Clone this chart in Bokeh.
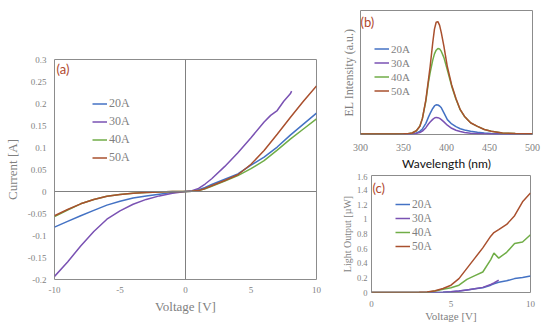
from bokeh.plotting import figure
from bokeh.models import Range1d, FixedTicker, Legend, LegendItem, Label, Span
from bokeh.layouts import row, column
from bokeh.embed import file_html
from bokeh.resources import INLINE

# ---------------- data ----------------
series = ["20A", "30A", "40A", "50A"]

# (a) I-V curves
volt_a = [-10, -9, -8, -7, -6, -5, -4, -3, -2, -1, 0, 0.5, 1, 1.5, 2, 3, 4, 5, 6, 7, 8, 9, 10]
cur_20 = [-0.081, -0.068, -0.055, -0.043, -0.031, -0.022, -0.015, -0.010, -0.006, -0.002, 0,
          0.0005, 0.004, 0.009, 0.016, 0.028, 0.040, 0.060, 0.078, 0.101, 0.128, 0.153, 0.178]
cur_40 = [-0.057, -0.042, -0.028, -0.018, -0.011, -0.007, -0.004, -0.002, -0.001, 0, 0,
          0.0004, 0.002, 0.006, 0.012, 0.024, 0.036, 0.052, 0.070, 0.094, 0.119, 0.142, 0.165]
cur_50 = [-0.055, -0.041, -0.028, -0.018, -0.011, -0.007, -0.004, -0.002, -0.001, 0, 0,
          0.0004, 0.002, 0.007, 0.013, 0.025, 0.038, 0.062, 0.093, 0.130, 0.168, 0.205, 0.240]
volt_a30 = [-10, -9, -8, -7, -6, -5, -4, -3, -2, -1, 0, 0.5, 1, 1.5, 2, 3, 4, 5, 6, 6.5, 7, 7.5, 8, 8.1]
cur_30 = [-0.193, -0.160, -0.124, -0.091, -0.063, -0.044, -0.029, -0.018, -0.010, -0.004, 0,
          0.002, 0.007, 0.017, 0.029, 0.057, 0.088, 0.122, 0.158, 0.173, 0.184, 0.205, 0.222, 0.228]
ya_ticks = [-0.2, -0.15, -0.1, -0.05, 0, 0.05, 0.1, 0.15, 0.2, 0.25, 0.3]
ya_labels = ["-0.2", "-0.15", "-0.1", "-0.05", "0", "0.05", "0.1", "0.15", "0.2", "0.25", "0.3"]
xa_ticks = [-10, -5, 0, 5, 10]
xa_labels = ["-10", "-5", "0", "5", "10"]

# (b) EL spectra
wl = [300, 320, 340, 350, 355, 360, 365, 369, 372, 376, 379, 381, 384, 386, 388, 390, 392, 394,
      397, 401, 406, 411, 416, 421, 428, 436, 444, 452, 465, 480, 500]
el_20 = [0.004, 0.004, 0.004, 0.004, 0.005, 0.006, 0.012, 0.025, 0.045, 0.09, 0.14, 0.17, 0.21, 0.23,
         0.24, 0.238, 0.23, 0.215, 0.175, 0.12, 0.085, 0.063, 0.046, 0.036, 0.026, 0.018, 0.012,
         0.008, 0.005, 0.004, 0.004]
el_30 = [0.004, 0.004, 0.004, 0.004, 0.005, 0.006, 0.009, 0.016, 0.027, 0.055, 0.085, 0.10, 0.122, 0.133,
         0.138, 0.136, 0.13, 0.12, 0.102, 0.075, 0.05, 0.034, 0.024, 0.017, 0.011, 0.008, 0.006,
         0.005, 0.004, 0.004, 0.004]
el_40 = [0.005, 0.005, 0.005, 0.006, 0.007, 0.012, 0.030, 0.066, 0.13, 0.27, 0.42, 0.50, 0.60, 0.65,
         0.68, 0.694, 0.69, 0.67, 0.62, 0.52, 0.39, 0.285, 0.198, 0.145, 0.094, 0.065, 0.040,
         0.026, 0.013, 0.008, 0.006]
el_50 = [0.005, 0.005, 0.005, 0.006, 0.007, 0.012, 0.030, 0.066, 0.13, 0.28, 0.44, 0.55, 0.74, 0.85,
         0.905, 0.91, 0.88, 0.82, 0.71, 0.546, 0.40, 0.29, 0.20, 0.146, 0.095, 0.066, 0.040,
         0.026, 0.013, 0.008, 0.006]
xb_ticks = [300, 350, 400, 450, 500]

# (c) light output
volt_c = [0, 1, 2, 3, 3.5, 4, 4.5, 5, 5.5, 6, 6.5, 7, 7.5, 7.7, 8, 8.5, 9, 9.5, 10]
lo_20 = [0, 0, 0, 0, 0, 0, 0.003, 0.01, 0.02, 0.035, 0.05, 0.065, 0.10, 0.12, 0.14, 0.16, 0.19, 0.205, 0.225]
lo_40 = [0, 0, 0, 0, 0.002, 0.02, 0.045, 0.065, 0.10, 0.18, 0.23, 0.28, 0.45, 0.54, 0.47, 0.55, 0.67, 0.69, 0.79]
lo_50 = [0, 0, 0, 0.002, 0.008, 0.025, 0.055, 0.10, 0.19, 0.33, 0.47, 0.61, 0.77, 0.82, 0.86, 0.93, 1.05, 1.24, 1.36]
volt_c30 = [0, 1, 2, 3, 3.5, 4, 4.5, 5, 5.5, 6, 6.5, 7, 7.5, 7.7, 8]
lo_30 = [0, 0, 0, 0, 0, 0, 0.004, 0.01, 0.02, 0.035, 0.05, 0.07, 0.11, 0.13, 0.17]
yc_ticks = [0, 0.2, 0.4, 0.6, 0.8, 1, 1.2, 1.4, 1.6]
yc_labels = ["0", "0.2", "0.4", "0.6", "0.8", "1", "1.2", "1.4", "1.6"]
xc_ticks = [0, 5, 10]

# ---------------- style ----------------
SERIF = "Liberation Serif"
SANS = "Lato"
GRAY = "#7f7f7f"
FRAME = "#8c8c8c"
COLORS = ["#4472c4", "#7a52b3", "#70ad47", "#a9502e"]
TAG = "#b0482e"


def base(w, h, xr, yr, bl, br, bt, bb):
    p = figure(width=w, height=h, x_range=Range1d(*xr), y_range=Range1d(*yr),
               output_backend="svg", toolbar_location=None)
    p.frame_align = False
    p.min_border = 0
    p.min_border_left = bl
    p.min_border_right = br
    p.min_border_top = bt
    p.min_border_bottom = bb
    p.outline_line_color = FRAME
    p.outline_line_width = 1
    p.xgrid.visible = False
    p.ygrid.visible = False
    p.background_fill_color = "white"
    p.border_fill_color = "white"
    for ax in (p.xaxis[0], p.yaxis[0]):
        ax.axis_line_color = None
        ax.major_tick_line_color = None
        ax.minor_tick_line_color = None
        ax.major_tick_out = 0
        ax.major_tick_in = 0
        ax.minor_tick_out = 0
        ax.minor_tick_in = 0
        ax.major_label_text_font = SERIF
        ax.major_label_text_color = GRAY
        ax.axis_label_text_font = SERIF
        ax.axis_label_text_color = GRAY
        ax.axis_label_text_font_style = "normal"
    return p


def legend(p, renderers, loc, spacing, gh, size):
    items = [LegendItem(label=s, renderers=[r]) for s, r in zip(series, renderers)]
    leg = Legend(items=items, location=loc, orientation="vertical", padding=0, margin=0,
                 spacing=spacing, glyph_width=15, glyph_height=gh, label_height=gh,
                 label_standoff=2, label_text_font=SERIF, label_text_font_size=size,
                 label_text_color=GRAY, border_line_color=None, background_fill_alpha=0)
    p.add_layout(leg)


def tag(p, text, x, y):
    p.add_layout(Label(x=x, y=y, x_units="screen", y_units="screen", text=text,
                       text_font=SANS, text_font_size="13px", text_color=TAG,
                       text_baseline="top", text_align="left"))


# ---------------- (a) ----------------
pa = base(338, 330, (-10, 10), (-0.2, 0.3), 54, 22, 59, 51)
pa.add_layout(Span(location=0, dimension="height", line_color="#808080", line_width=1))
pa.add_layout(Span(location=0, dimension="width", line_color="#808080", line_width=1))
ra = [
    pa.line(volt_a, cur_20, line_color=COLORS[0], line_width=1.5),
    pa.line(volt_a30, cur_30, line_color=COLORS[1], line_width=1.5),
    pa.line(volt_a, cur_40, line_color=COLORS[2], line_width=1.5),
    pa.line(volt_a, cur_50, line_color=COLORS[3], line_width=1.5),
]
pa.yaxis.ticker = FixedTicker(ticks=ya_ticks)
pa.yaxis.major_label_overrides = dict(zip(ya_ticks, ya_labels))
pa.xaxis.ticker = FixedTicker(ticks=xa_ticks)
pa.xaxis.major_label_overrides = dict(zip(xa_ticks, xa_labels))
pa.yaxis.major_label_text_font_size = "9px"
pa.xaxis.major_label_text_font_size = "9px"
pa.yaxis.major_label_standoff = 8
pa.xaxis.major_label_standoff = 7
pa.yaxis.axis_label = "Current [A]"
pa.xaxis.axis_label = "Voltage [V]"
pa.yaxis.axis_label_text_font_size = "13px"
pa.xaxis.axis_label_text_font_size = "13px"
pa.yaxis.axis_label_standoff = 5
pa.xaxis.axis_label_standoff = 3
legend(pa, ra, (38, 114), 3, 15, "12px")
tag(pa, "(a)", 2, 219)

# ---------------- (b) ----------------
pb = base(212, 173, (300, 500), (0, 1), 20, 18, 10, 38)
rb = [
    pb.line(wl, el_20, line_color=COLORS[0], line_width=1.5),
    pb.line(wl, el_30, line_color=COLORS[1], line_width=1.5),
    pb.line(wl, el_40, line_color=COLORS[2], line_width=1.5),
    pb.line(wl, el_50, line_color=COLORS[3], line_width=1.5),
]
pb.xaxis.ticker = FixedTicker(ticks=xb_ticks)
pb.yaxis.ticker = FixedTicker(ticks=[])
pb.yaxis.major_label_standoff = 0
pb.xaxis.major_label_text_font_size = "10px"
pb.xaxis.major_label_standoff = 9
pb.xaxis.axis_label = "Wavelength (nm)"
pb.xaxis.axis_label_text_font = SANS
pb.xaxis.axis_label_text_color = "#111111"
pb.xaxis.axis_label_text_font_size = "12px"
pb.xaxis.axis_label_standoff = 2
pb.yaxis.axis_label = "EL Intensity (a.u.)"
pb.yaxis.axis_label_text_font_size = "12px"
pb.yaxis.axis_label_standoff = 5
legend(pb, rb, (14, 37), 1, 13, "11px")
tag(pb, "(b)", 0, 121)

# ---------------- (c) ----------------
pc = base(212, 157, (0, 10), (0, 1.6), 28, 20, 2, 38)
rc = [
    pc.line(volt_c, lo_20, line_color=COLORS[0], line_width=1.5),
    pc.line(volt_c30, lo_30, line_color=COLORS[1], line_width=1.5),
    pc.line(volt_c, lo_40, line_color=COLORS[2], line_width=1.5),
    pc.line(volt_c, lo_50, line_color=COLORS[3], line_width=1.5),
]
pc.yaxis.ticker = FixedTicker(ticks=yc_ticks)
pc.yaxis.major_label_overrides = dict(zip(yc_ticks, yc_labels))
pc.xaxis.ticker = FixedTicker(ticks=xc_ticks)
pc.yaxis.major_label_text_font_size = "8.5px"
pc.xaxis.major_label_text_font_size = "9px"
pc.yaxis.major_label_standoff = 4
pc.xaxis.major_label_standoff = 8
pc.xaxis.axis_label = "Voltage [V]"
pc.xaxis.axis_label_text_font_size = "11px"
pc.xaxis.axis_label_standoff = 0
pc.yaxis.axis_label = "Light Output [µW]"
pc.yaxis.axis_label_text_font_size = "10px"
pc.yaxis.axis_label_standoff = 1
legend(pc, rc, (24, 39), 0, 14, "11.5px")
tag(pc, "(c)", 1, 113)

layout = row(pa, column(pb, pc))
open("out.html", "w").write(file_html(layout, INLINE))
